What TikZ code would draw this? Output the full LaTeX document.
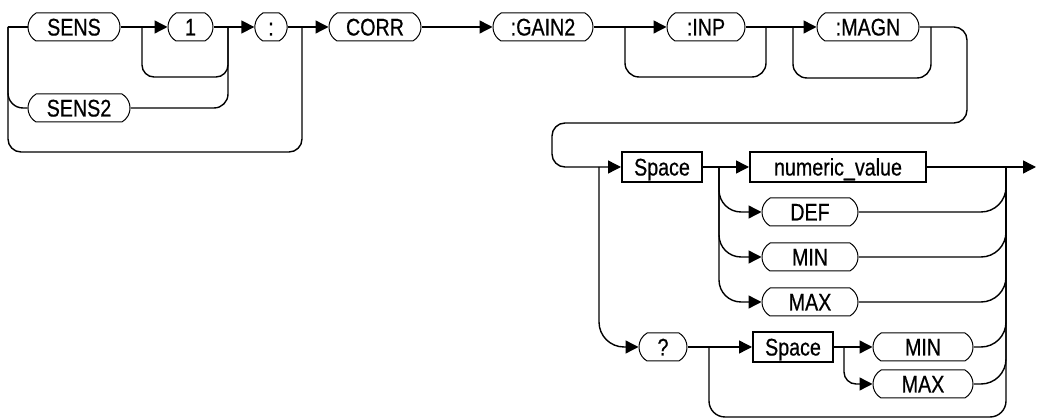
\documentclass[tikz,border=0pt]{standalone}
\usepackage{fontspec}
\setmainfont{Liberation Sans}[FakeStretch=0.82,FakeBold=0.6]
\usetikzlibrary{arrows.meta,shapes.misc}
\begin{document}
\begin{tikzpicture}[x=1pt,y=-1pt,
  conn/.style={line width=1.4pt},
  arr/.style={conn,-{Triangle[length=13pt,width=13pt]}},
  lbl/.style={inner sep=0pt,text height=17pt,text depth=0pt,font=\fontsize{24}{28}\selectfont},
  pill/.style={lbl,draw,rounded rectangle,rounded rectangle arc length=120,line width=1pt,minimum height=28pt},
  kw/.style={lbl,draw,rectangle,line width=2pt,minimum height=30pt}
]
\useasboundingbox (0,0) rectangle (1037,419);
% nodes
\node[pill,minimum width=92pt]  (sens)  at (74,27)   {SENS};
\node[pill,minimum width=45pt]  (one)   at (190.5,27) {1};
\node[pill,minimum width=28pt]  (colon) at (271,27)  {:};
\node[pill,minimum width=102pt] (sens2) at (79,108)  {SENS2};
\node[pill,minimum width=92pt]  (corr)  at (375,27)  {CORR};
\node[pill,minimum width=100pt] (gain)  at (543,27)  {:GAIN2};
\node[pill,minimum width=78pt]  (inp)   at (706,27)  {:INP};
\node[pill,minimum width=102pt] (magn)  at (868,27)  {:MAGN};
\node[kw,minimum width=80pt]    (space1) at (662,167) {Space};
\node[kw,minimum width=176pt]   (numv)  at (838,167) {numeric\_value};
\node[pill,minimum width=96pt]  (def)   at (810,212) {DEF};
\node[pill,minimum width=96pt]  (min)   at (810,257) {MIN};
\node[pill,minimum width=96pt]  (max)   at (810,302) {MAX};
\node[pill,minimum width=48pt]  (q)     at (663,347) {?};
\node[kw,minimum width=80pt]    (space2) at (793,347) {Space};
\node[pill,minimum width=100pt] (min2)  at (923,347) {MIN};
\node[pill,minimum width=100pt] (max2)  at (923,384) {MAX};
% coordinates
\coordinate (rl)  at (8,27);
\coordinate (lbr) at (302,152);
\coordinate (jc)  at (302,27);
\coordinate (j1a) at (142,27);
\coordinate (j1b) at (228,27);
\coordinate (l1b) at (228,77);
\coordinate (jg)  at (625,27);
\coordinate (ji)  at (766,27);
\coordinate (lg)  at (766,77);
\coordinate (jm1) at (793,27);
\coordinate (jm2) at (931,27);
\coordinate (lm)  at (931,78);
\coordinate (r1)  at (967,123);
\coordinate (r2)  at (552,123);
\coordinate (jq)  at (599,167);
\coordinate (jn)  at (719,167);
\coordinate (jr)  at (1006,167);
\coordinate (endp) at (1036,167);
\coordinate (jq2) at (709,347);
\coordinate (bl)  at (709,417);
\coordinate (js)  at (844,347);
% top row
\draw[conn] (rl) -- (sens.west);
\draw[conn,rounded corners=15pt] (rl) |- (sens2.west);
\draw[conn,rounded corners=13pt] (rl) |- (lbr) -- (jc);
\draw[arr] (sens.east) -- (one.west);
\draw[conn,rounded corners=12pt] (j1a) |- (l1b) -- (j1b);
\draw[conn,rounded corners=14pt] (sens2.east) -| (j1b);
\draw[arr] (one.east) -- (colon.west);
\draw[arr] (colon.east) -- (corr.west);
\draw[arr] (corr.east) -- (gain.west);
\draw[arr] (gain.east) -- (inp.west);
\draw[conn,rounded corners=14pt] (jg) |- (lg) -- (ji);
\draw[arr] (inp.east) -- (magn.west);
\draw[conn,rounded corners=14pt] (jm1) |- (lm) -- (jm2);
\draw[arr,rounded corners=13pt] (magn.east) -| (r1) -- (r2) |- (space1.west);
% second part
\draw[arr] (space1.east) -- (numv.west);
\draw[arr] (numv.east) -- (endp);
\draw[arr,rounded corners=25pt] (jq) |- (q.west);
\draw[arr,rounded corners=22pt] (jn) |- (def.west);
\draw[arr,rounded corners=22pt] (jn) |- (min.west);
\draw[arr,rounded corners=22pt] (jn) |- (max.west);
\draw[conn,rounded corners=25pt] (def.east) -| (jr);
\draw[conn,rounded corners=25pt] (min.east) -| (jr);
\draw[conn,rounded corners=25pt] (max.east) -| (jr);
\draw[conn,rounded corners=25pt] (min2.east) -| (jr);
\draw[conn,rounded corners=25pt] (max2.east) -| (jr);
\draw[conn,rounded corners=16pt] (jr) |- (bl) -- (jq2);
\draw[arr] (q.east) -- (space2.west);
\draw[arr] (space2.east) -- (min2.west);
\draw[arr,rounded corners=12pt] (js) |- (max2.west);
\end{tikzpicture}
\end{document}
